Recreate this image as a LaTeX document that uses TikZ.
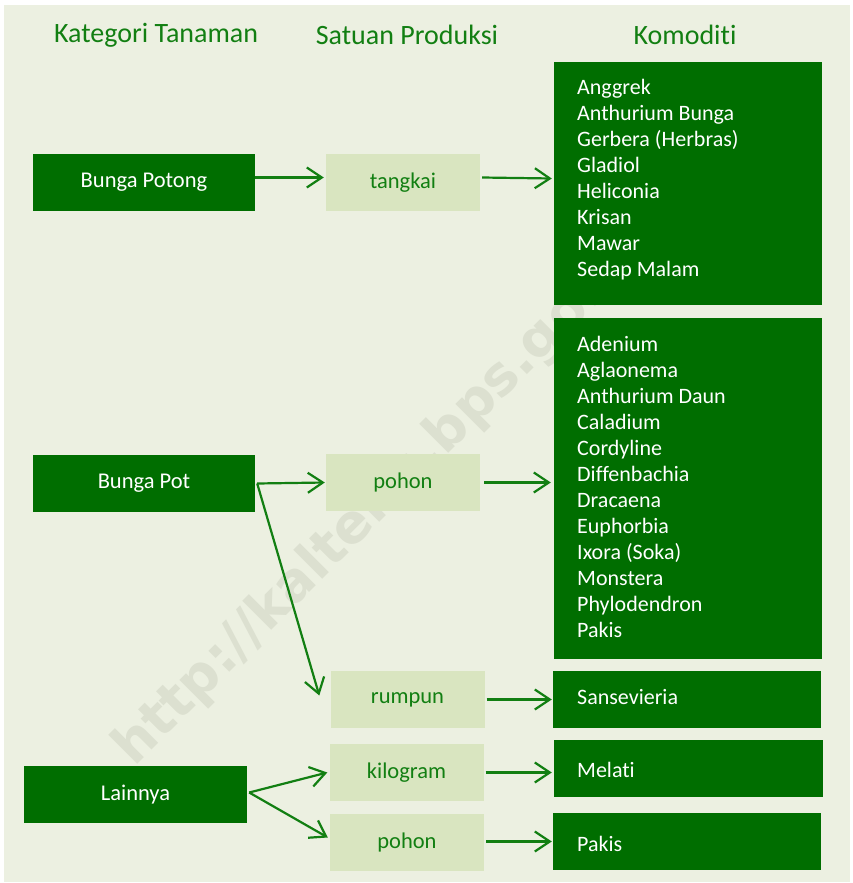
\documentclass[tikz,border=0pt]{standalone}
\usepackage{fontspec}
\setmainfont[Ligatures={NoCommon}]{Carlito}
\newfontfamily\wmfont{DejaVu Sans}
\usetikzlibrary{arrows.meta}
\definecolor{bgGreen}{HTML}{ECF0E1}
\definecolor{darkGreen}{HTML}{006E00}
\definecolor{paleGreen}{HTML}{D9E5C0}
\definecolor{lineGreen}{HTML}{127F12}
\definecolor{wmGrey}{HTML}{DCE0D0}
\begin{document}
\begin{tikzpicture}[
x=1pt, y=-1pt,
every node/.style = {shape=rectangle, inner sep=0pt, align=center},
header/.style = {text=lineGreen, font=\fontsize{28}{32}\selectfont},
category/.style = {fill=darkGreen, text=white, minimum height=57pt, font=\fontsize{22.5}{26}\selectfont},
unit/.style = {fill=paleGreen, text=lineGreen, minimum width=154pt, minimum height=57pt, font=\fontsize{22.5}{26}\selectfont},
commodity/.style = {fill=darkGreen, minimum width=268pt},
itemlist/.style = {text=white, align=left, anchor=north west, font=\fontsize{22}{26}\selectfont},
link/.style = {draw=lineGreen, line width=2.2pt, -{Straight Barb[length=15pt, width=20pt, line width=2.2pt]}},
]
  % background and page
  \useasboundingbox (0,0) rectangle (853,883);
  \fill[white] (0,0) rectangle (853,883);
  \fill[bgGreen] (4,5) rectangle (850,882);
  \node[text=wmGrey, font=\wmfont\bfseries\fontsize{54}{58}\selectfont, rotate=45, anchor=base west]
    (watermark) at (134,768) {http://kalteng.bps.go.id};

  % headers
  \node[header] (hKategori) at (156,35) {Kategori Tanaman};
  \node[header] (hSatuan) at (407,35) {Satuan Produksi};
  \node[header] (hKomoditi) at (685,35) {Komoditi};

  % kategori tanaman
  \node[category, minimum width=222pt] (potong) at (144,182.5) {\raisebox{-1.5pt}{Bunga Potong}};
  \node[category, minimum width=222pt] (pot) at (144,483.5) {\raisebox{-1.5pt}{Bunga Pot}};
  \node[category, minimum width=223pt] (lainnya) at (135.5,794.5) {\raisebox{-1.5pt}{Lainnya}};

  % satuan produksi
  \node[unit] (tangkai) at (403,182.5) {\raisebox{-1.5pt}{tangkai}};
  \node[unit] (pohonA) at (403,482.5) {\raisebox{-1.5pt}{pohon}};
  \node[unit] (rumpun) at (407.5,699.5) {\raisebox{-1.5pt}{rumpun}};
  \node[unit] (kilogram) at (406.5,772.5) {\raisebox{-1.5pt}{kilogram}};
  \node[unit] (pohonB) at (407,842.5) {\raisebox{-1.5pt}{pohon}};

  % komoditi
  \node[commodity, minimum height=243pt] (komPotong) at (688,183.5) {};
  \node[itemlist] (listPotong) at (577,79)
    {Anggrek\\Anthurium Bunga\\Gerbera (Herbras)\\Gladiol\\Heliconia\\Krisan\\Mawar\\Sedap Malam};
  \node[commodity, minimum height=341pt] (komPot) at (688,488.5) {};
  \node[itemlist] (listPot) at (577,336)
    {Adenium\\Aglaonema\\Anthurium Daun\\Caladium\\Cordyline\\Diffenbachia\\Dracaena\\Euphorbia\\Ixora (Soka)\\Monstera\\Phylodendron\\Pakis};
  \node[commodity, minimum height=57pt] (komRumpun) at (687,699.5) {};
  \node[itemlist, anchor=west] (listRumpun) at (577,697) {Sansevieria};
  \node[commodity, minimum height=57pt, minimum width=269pt] (komKilo) at (688.5,768.5) {};
  \node[itemlist, anchor=west] (listKilo) at (577,770) {Melati};
  \node[commodity, minimum height=57pt] (komPohon) at (687,841.5) {};
  \node[itemlist, anchor=west] (listPohon) at (577,844) {Pakis};

  % connectors
  \draw[link] ([yshift=5pt]potong.east) -- ([xshift=-2pt,yshift=5pt]tangkai.west);
  \draw[link] ([xshift=2pt,yshift=5pt]tangkai.east) -- ([xshift=-2pt,yshift=5pt]komPotong.west);
  \draw[link] ([xshift=2pt]pot.east) -- ([xshift=-1pt]pohonA.west);
  \draw[link] ([xshift=2pt]pot.east) -- ([xshift=-11pt,yshift=4pt]rumpun.west);
  \draw[link] ([xshift=4pt]pohonA.east) -- ([xshift=-3pt]komPot.west |- pohonA.east);
  \draw[link] ([xshift=2pt]rumpun.east) -- ([xshift=-1pt]komRumpun.west);
  \draw[link] ([xshift=2pt,yshift=2pt]lainnya.east) -- ([xshift=-2pt]kilogram.west);
  \draw[link] ([xshift=2pt,yshift=2pt]lainnya.east) -- ([xshift=-2pt,yshift=5pt]pohonB.west);
  \draw[link] ([xshift=2pt]kilogram.east) -- ([xshift=-2pt]komKilo.west |- kilogram.east);
  \draw[link] ([xshift=2pt,yshift=1pt]pohonB.east) -- ([xshift=-1pt,yshift=1pt]komPohon.west |- pohonB.east);
\end{tikzpicture}
\end{document}
